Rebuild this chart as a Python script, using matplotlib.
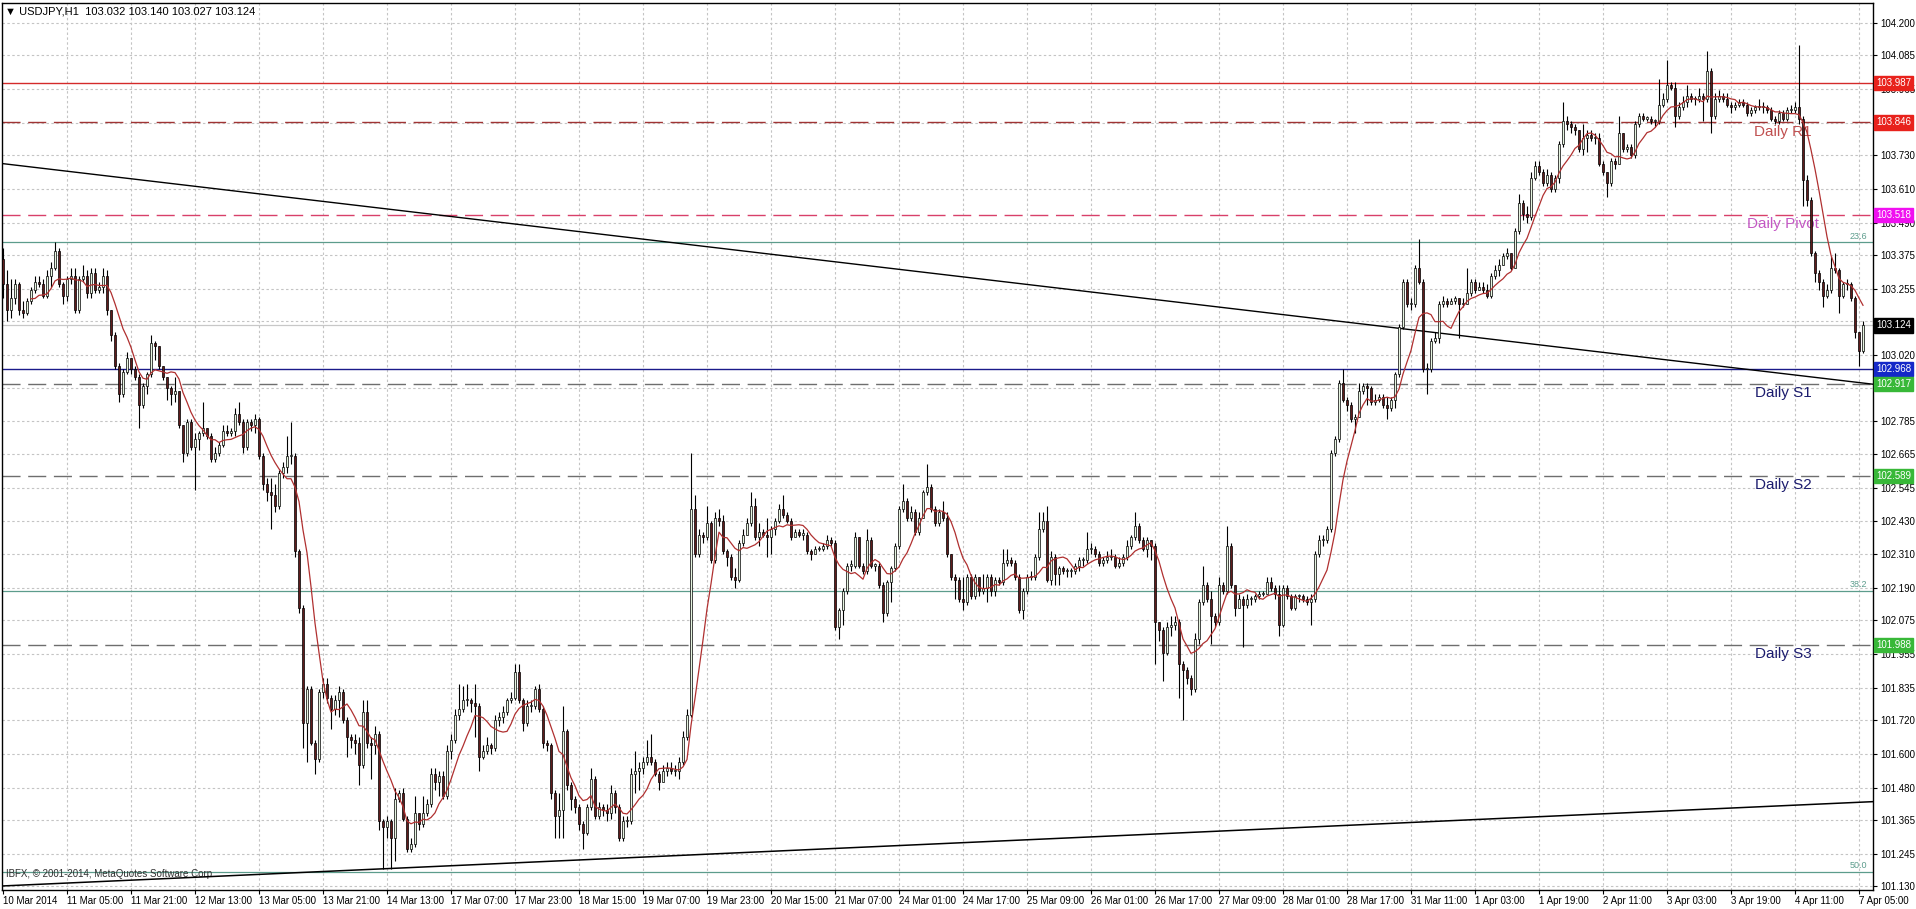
import numpy as np
import matplotlib
matplotlib.use("Agg")
import matplotlib.pyplot as plt
import matplotlib.transforms as mtransforms

plt.rcParams["font.family"] = ["Liberation Sans", "DejaVu Sans"]

# chart header
title_text = "\u25BC USDJPY,H1  103.032 103.140 103.027 103.124"
footer_text = "IBFX, \u00a9 2001-2014, MetaQuotes Software Corp."

# hourly candles, 10 Mar 2014 .. 7 Apr 2014
first_open = 103.36
closes = [
    103.27, 103.18, 103.22, 103.27, 103.18, 103.17, 103.21, 103.25, 103.28, 103.27, 103.23, 103.30, 103.33,
    103.39, 103.27, 103.23, 103.29, 103.30, 103.18, 103.29, 103.30, 103.24, 103.31, 103.25, 103.26, 103.30,
    103.18, 103.09, 102.98, 102.88, 102.96, 103.01, 102.97, 102.94, 102.84, 102.91, 102.95, 103.06, 103.05,
    102.98, 102.94, 102.90, 102.88, 102.89,
    102.77, 102.67, 102.78, 102.69, 102.72, 102.74, 102.76, 102.73, 102.65, 102.67, 102.70, 102.75, 102.74,
    102.75, 102.81, 102.78, 102.69, 102.78, 102.77, 102.79,
    102.66, 102.56, 102.53, 102.52, 102.48, 102.60, 102.62, 102.66, 102.66, 102.32, 102.12, 101.71, 101.83,
    101.64, 101.58, 101.82, 101.85, 101.80, 101.76, 101.79, 101.82, 101.72, 101.66, 101.65, 101.64, 101.56,
    101.75, 101.64, 101.63, 101.67, 101.36,
    101.34, 101.36, 101.30, 101.44, 101.46, 101.37, 101.26, 101.28, 101.39, 101.35, 101.39, 101.42, 101.53,
    101.50, 101.52, 101.45, 101.61, 101.65, 101.74, 101.76, 101.79, 101.79, 101.78, 101.77, 101.59, 101.61,
    101.63, 101.62, 101.72, 101.73, 101.75, 101.79, 101.80, 101.89, 101.79, 101.71,
    101.77, 101.77, 101.83, 101.76, 101.64, 101.63, 101.46, 101.38, 101.40, 101.68, 101.49, 101.44, 101.41,
    101.35, 101.32, 101.41, 101.51, 101.38, 101.41, 101.40, 101.39, 101.46, 101.41, 101.30, 101.36, 101.36,
    101.53, 101.54, 101.55, 101.57, 101.59, 101.57, 101.53, 101.50, 101.54, 101.55, 101.54, 101.54, 101.57,
    101.66, 101.74,
    102.47, 102.31, 102.38, 102.37, 102.42, 102.29, 102.44, 102.43, 102.32, 102.30, 102.23, 102.22, 102.35,
    102.38, 102.42, 102.48, 102.37, 102.39,
    102.38, 102.37, 102.40, 102.43, 102.47, 102.45, 102.43, 102.37, 102.39, 102.38, 102.38, 102.32, 102.31,
    102.33, 102.33, 102.34, 102.36, 102.35, 102.05, 102.11, 102.18, 102.27, 102.27, 102.37, 102.27, 102.25,
    102.36, 102.27, 102.27, 102.20, 102.10, 102.21, 102.26, 102.34, 102.47, 102.50, 102.44, 102.46, 102.39,
    102.44, 102.53,
    102.55, 102.47, 102.42, 102.46, 102.44, 102.31, 102.23, 102.22, 102.15, 102.14, 102.23, 102.16, 102.23,
    102.18, 102.19, 102.23, 102.18, 102.22, 102.21, 102.28, 102.29, 102.28, 102.23, 102.11, 102.18, 102.23,
    102.23, 102.30, 102.40, 102.43, 102.22, 102.30, 102.24, 102.26, 102.25, 102.25, 102.25, 102.27, 102.29,
    102.29, 102.33, 102.33, 102.31, 102.28, 102.29, 102.30, 102.30, 102.27, 102.28, 102.30, 102.34, 102.37,
    102.41, 102.36,
    102.33, 102.36, 102.34, 102.07, 102.04, 101.96, 102.05, 102.06, 102.07, 101.92, 101.90, 101.87, 101.83,
    102.01, 102.14, 102.20, 102.15, 102.09, 102.07, 102.20, 102.18, 102.34, 102.20, 102.12, 102.15, 102.13,
    102.15, 102.15, 102.16, 102.17, 102.17, 102.21, 102.19, 102.17, 102.06, 102.19, 102.16, 102.12, 102.16,
    102.16, 102.15, 102.14, 102.15, 102.31, 102.36, 102.36, 102.40, 102.67, 102.72, 102.92,
    102.86, 102.84, 102.79, 102.80, 102.89, 102.91, 102.90, 102.85, 102.86, 102.87, 102.84, 102.83, 102.86,
    102.95, 103.12, 103.28, 103.20, 103.20, 103.33, 103.28, 102.97, 102.97, 103.07, 103.08, 103.20, 103.21,
    103.20, 103.21, 103.22, 103.20, 103.20, 103.24, 103.28, 103.25, 103.26, 103.25, 103.23, 103.30, 103.32,
    103.34, 103.37, 103.38, 103.33, 103.46, 103.56,
    103.52, 103.51, 103.65, 103.69, 103.67, 103.63, 103.66, 103.61, 103.65, 103.77, 103.85, 103.84, 103.83,
    103.82, 103.75, 103.79, 103.80, 103.79, 103.79, 103.70, 103.67, 103.63, 103.71, 103.70, 103.81, 103.75,
    103.76, 103.73, 103.84, 103.87, 103.86, 103.86, 103.85, 103.85, 103.91, 103.93, 103.98, 103.97, 103.87,
    103.90, 103.92, 103.94, 103.93, 103.93, 103.94, 103.93, 104.03, 103.87, 103.93, 103.94, 103.93, 103.91,
    103.90, 103.91, 103.92, 103.91, 103.88, 103.89, 103.90, 103.90, 103.90, 103.89, 103.86, 103.85, 103.88,
    103.86, 103.89, 103.89, 103.90, 103.86, 103.64, 103.57, 103.38, 103.31, 103.28, 103.23, 103.25, 103.33,
    103.32, 103.23, 103.27, 103.27, 103.22, 103.10, 103.032, 103.124,
]
highs = [
    103.40, 103.32, 103.29, 103.29, 103.28, 103.21, 103.22, 103.26, 103.30, 103.30, 103.29, 103.32, 103.35,
    103.42, 103.40, 103.28, 103.30, 103.33, 103.33, 103.30, 103.34, 103.32, 103.33, 103.33, 103.28, 103.33,
    103.32, 103.18, 103.10, 102.99, 102.97, 103.03, 103.00, 102.98, 102.95, 102.92, 102.96, 103.09, 103.07,
    103.03, 102.98, 102.94, 102.91, 102.94,
    102.86, 102.77, 102.79, 102.79, 102.74, 102.75, 102.85, 102.76, 102.74, 102.69, 102.71, 102.77, 102.77,
    102.76, 102.83, 102.85, 102.79, 102.79, 102.79, 102.81,
    102.80, 102.67, 102.58, 102.58, 102.56, 102.61, 102.64, 102.73, 102.78, 102.67, 102.33, 102.13, 101.84,
    101.84, 101.65, 101.83, 101.87, 101.87, 101.81, 101.81, 101.84, 101.83, 101.73, 101.67, 101.67, 101.66,
    101.79, 101.79, 101.66, 101.70, 101.68,
    101.37, 101.38, 101.37, 101.48, 101.47, 101.48, 101.38, 101.30, 101.45, 101.39, 101.45, 101.44, 101.55,
    101.55, 101.54, 101.54, 101.63, 101.67, 101.76, 101.85, 101.84, 101.85, 101.80, 101.85, 101.78, 101.63,
    101.66, 101.64, 101.74, 101.75, 101.77, 101.80, 101.82, 101.92, 101.92, 101.80,
    101.79, 101.79, 101.84, 101.85, 101.77, 101.65, 101.64, 101.47, 101.46, 101.77, 101.69, 101.50, 101.45,
    101.42, 101.36, 101.42, 101.55, 101.52, 101.43, 101.42, 101.42, 101.49, 101.47, 101.42, 101.38, 101.38,
    101.55, 101.61, 101.57, 101.59, 101.65, 101.67, 101.58, 101.54, 101.56, 101.57, 101.57, 101.56, 101.59,
    101.68, 101.76,
    102.67, 102.52, 102.40, 102.39, 102.48, 102.43, 102.46, 102.47, 102.45, 102.33, 102.31, 102.26, 102.36,
    102.40, 102.44, 102.53, 102.51, 102.42,
    102.40, 102.44, 102.41, 102.44, 102.49, 102.52, 102.46, 102.44, 102.40, 102.40, 102.40, 102.39, 102.33,
    102.34, 102.34, 102.35, 102.38, 102.37, 102.36, 102.12, 102.19, 102.28, 102.29, 102.39, 102.37, 102.28,
    102.40, 102.37, 102.28, 102.28, 102.21, 102.22, 102.27, 102.35, 102.48, 102.56, 102.51, 102.48, 102.47,
    102.46, 102.54,
    102.63, 102.56, 102.48, 102.47, 102.50, 102.46, 102.31, 102.24, 102.23, 102.23, 102.24, 102.24, 102.24,
    102.23, 102.24, 102.24, 102.24, 102.23, 102.23, 102.33, 102.33, 102.30, 102.29, 102.24, 102.19, 102.24,
    102.25, 102.31, 102.46, 102.46, 102.48, 102.32, 102.31, 102.27, 102.27, 102.26, 102.26, 102.28, 102.30,
    102.30, 102.39, 102.35, 102.34, 102.32, 102.30, 102.32, 102.33, 102.31, 102.30, 102.31, 102.36, 102.38,
    102.46, 102.42,
    102.37, 102.37, 102.35, 102.35, 102.07, 102.05, 102.07, 102.09, 102.09, 102.08, 101.93, 101.91, 101.88,
    102.03, 102.15, 102.27, 102.21, 102.18, 102.10, 102.23, 102.21, 102.41, 102.35, 102.20, 102.17, 102.16,
    102.17, 102.16, 102.17, 102.18, 102.18, 102.23, 102.23, 102.20, 102.20, 102.20, 102.20, 102.17, 102.17,
    102.17, 102.17, 102.16, 102.17, 102.32, 102.38, 102.38, 102.41, 102.68, 102.73, 102.93,
    102.97, 102.87, 102.85, 102.81, 102.92, 102.92, 102.92, 102.91, 102.88, 102.88, 102.88, 102.87, 102.87,
    102.96, 103.13, 103.29, 103.29, 103.22, 103.34, 103.43, 103.29, 102.99, 103.08, 103.10, 103.21, 103.23,
    103.22, 103.22, 103.23, 103.22, 103.22, 103.33, 103.29, 103.29, 103.28, 103.28, 103.27, 103.31, 103.34,
    103.36, 103.38, 103.40, 103.38, 103.47, 103.59,
    103.57, 103.55, 103.67, 103.71, 103.71, 103.68, 103.68, 103.67, 103.66, 103.78, 103.92, 103.87, 103.85,
    103.84, 103.81, 103.84, 103.82, 103.82, 103.81, 103.81, 103.71, 103.67, 103.72, 103.72, 103.87, 103.81,
    103.77, 103.77, 103.85, 103.88, 103.88, 103.87, 103.87, 103.86, 104.00, 103.95, 104.07, 103.99, 103.99,
    103.92, 103.94, 103.98, 103.95, 103.94, 103.97, 103.95, 104.10, 104.04, 103.95, 103.96, 103.95, 103.95,
    103.92, 103.92, 103.93, 103.93, 103.92, 103.90, 103.91, 103.93, 103.92, 103.91, 103.90, 103.87, 103.89,
    103.89, 103.90, 103.91, 103.92, 104.12, 103.87, 103.66, 103.58, 103.39, 103.32, 103.29, 103.27, 103.37,
    103.38, 103.33, 103.28, 103.29, 103.28, 103.23, 103.10, 103.140,
]
lows = [
    103.22, 103.14, 103.15, 103.20, 103.16, 103.15, 103.16, 103.20, 103.24, 103.26, 103.22, 103.22, 103.26,
    103.32, 103.26, 103.20, 103.21, 103.27, 103.17, 103.17, 103.28, 103.22, 103.22, 103.24, 103.24, 103.24,
    103.16, 103.07, 102.97, 102.85, 102.87, 102.95, 102.95, 102.93, 102.76, 102.83, 102.88, 102.94, 103.00,
    102.97, 102.93, 102.86, 102.84, 102.85,
    102.76, 102.64, 102.66, 102.68, 102.54, 102.68, 102.73, 102.72, 102.64, 102.64, 102.66, 102.69, 102.73,
    102.73, 102.73, 102.77, 102.67, 102.68, 102.75, 102.74,
    102.65, 102.54, 102.50, 102.40, 102.46, 102.47, 102.58, 102.60, 102.63, 102.30, 102.10, 101.62, 101.57,
    101.63, 101.53, 101.57, 101.80, 101.78, 101.69, 101.74, 101.73, 101.71, 101.59, 101.62, 101.60, 101.49,
    101.55, 101.62, 101.51, 101.60, 101.33,
    101.19, 101.30, 101.19, 101.22, 101.43, 101.36, 101.25, 101.25, 101.27, 101.33, 101.34, 101.38, 101.41,
    101.47, 101.45, 101.44, 101.44, 101.58, 101.64, 101.72, 101.75, 101.77, 101.75, 101.66, 101.54, 101.58,
    101.60, 101.60, 101.61, 101.70, 101.71, 101.74, 101.78, 101.79, 101.78, 101.68,
    101.70, 101.75, 101.76, 101.75, 101.62, 101.61, 101.44, 101.30, 101.30, 101.30, 101.47, 101.40, 101.39,
    101.33, 101.26, 101.31, 101.40, 101.37, 101.37, 101.38, 101.36, 101.37, 101.39, 101.29, 101.29, 101.34,
    101.35, 101.46, 101.47, 101.53, 101.56, 101.56, 101.52, 101.47, 101.50, 101.52, 101.53, 101.52, 101.51,
    101.56, 101.65,
    101.73, 102.30, 102.30, 102.35, 102.36, 102.28, 102.28, 102.41, 102.31, 102.27, 102.22, 102.19, 102.21,
    102.34, 102.39, 102.41, 102.36, 102.34,
    102.37, 102.30, 102.31, 102.38, 102.42, 102.44, 102.42, 102.36, 102.37, 102.37, 102.36, 102.31, 102.29,
    102.31, 102.32, 102.32, 102.33, 102.34, 102.04, 102.01, 102.06, 102.17, 102.25, 102.26, 102.26, 102.24,
    102.24, 102.26, 102.25, 102.19, 102.07, 102.09, 102.14, 102.25, 102.33, 102.46, 102.43, 102.43, 102.38,
    102.38, 102.44,
    102.52, 102.46, 102.41, 102.41, 102.43, 102.30, 102.22, 102.15, 102.14, 102.11, 102.13, 102.15, 102.15,
    102.16, 102.17, 102.14, 102.16, 102.16, 102.20, 102.20, 102.27, 102.27, 102.22, 102.10, 102.08, 102.17,
    102.22, 102.22, 102.29, 102.39, 102.21, 102.20, 102.20, 102.20, 102.24, 102.23, 102.23, 102.24, 102.25,
    102.27, 102.28, 102.31, 102.30, 102.27, 102.27, 102.28, 102.29, 102.26, 102.26, 102.27, 102.29, 102.33,
    102.36, 102.35,
    102.32, 102.30, 102.29, 101.92, 102.00, 101.86, 101.95, 102.02, 102.04, 101.80, 101.72, 101.85, 101.81,
    101.82, 101.99, 102.13, 102.14, 101.99, 102.05, 102.06, 102.17, 102.17, 102.19, 102.09, 102.12, 101.98,
    102.12, 102.13, 102.14, 102.15, 102.16, 102.17, 102.18, 102.15, 102.02, 102.05, 102.15, 102.11, 102.11,
    102.14, 102.14, 102.13, 102.06, 102.14, 102.30, 102.34, 102.35, 102.39, 102.66, 102.71,
    102.85, 102.82, 102.78, 102.74, 102.80, 102.88, 102.84, 102.84, 102.84, 102.85, 102.83, 102.79, 102.82,
    102.83, 102.94, 103.11, 103.19, 103.18, 103.19, 103.27, 102.96, 102.88, 102.96, 103.06, 103.06, 103.19,
    103.19, 103.20, 103.20, 103.08, 103.19, 103.20, 103.23, 103.24, 103.25, 103.24, 103.22, 103.22, 103.29,
    103.30, 103.34, 103.36, 103.32, 103.33, 103.45,
    103.50, 103.49, 103.50, 103.64, 103.66, 103.62, 103.62, 103.60, 103.60, 103.63, 103.76, 103.82, 103.81,
    103.80, 103.74, 103.73, 103.74, 103.78, 103.77, 103.69, 103.66, 103.58, 103.62, 103.68, 103.70, 103.74,
    103.74, 103.72, 103.72, 103.83, 103.85, 103.85, 103.84, 103.83, 103.84, 103.90, 103.92, 103.96, 103.83,
    103.86, 103.89, 103.90, 103.92, 103.91, 103.92, 103.85, 103.92, 103.81, 103.86, 103.92, 103.92, 103.90,
    103.88, 103.89, 103.90, 103.90, 103.87, 103.87, 103.88, 103.89, 103.88, 103.88, 103.85, 103.84, 103.84,
    103.85, 103.85, 103.88, 103.88, 103.84, 103.55, 103.55, 103.37, 103.28, 103.25, 103.19, 103.22, 103.24,
    103.31, 103.17, 103.22, 103.25, 103.21, 103.08, 102.98, 103.027,
]

# time axis labels (one every 16 bars)
time_labels = [
    "10 Mar 2014", "11 Mar 05:00", "11 Mar 21:00", "12 Mar 13:00", "13 Mar 05:00", "13 Mar 21:00",
    "14 Mar 13:00", "17 Mar 07:00", "17 Mar 23:00", "18 Mar 15:00", "19 Mar 07:00", "19 Mar 23:00",
    "20 Mar 15:00", "21 Mar 07:00", "24 Mar 01:00", "24 Mar 17:00", "25 Mar 09:00", "26 Mar 01:00",
    "26 Mar 17:00", "27 Mar 09:00", "28 Mar 01:00", "28 Mar 17:00", "31 Mar 11:00", "1 Apr 03:00",
    "1 Apr 19:00", "2 Apr 11:00", "3 Apr 03:00", "3 Apr 19:00", "4 Apr 11:00", "7 Apr 05:00",
]
bars_per_label = 16

# price scale (labels hidden behind the price boxes are left blank)
price_tick_values = [
    101.130, 101.245, 101.365, 101.480, 101.600, 101.720, 101.835, 101.955, 102.075,
    102.190, 102.310, 102.430, 102.545, 102.665, 102.785, 102.900, 103.020, 103.140,
    103.255, 103.375, 103.490, 103.610, 103.730, 103.845, 103.965, 104.085, 104.200,
]
price_tick_labels = [
    "101.130", "101.245", "101.365", "101.480", "101.600", "101.720", "101.835", "101.955", "102.075",
    "102.190", "102.310", "102.430", "102.545", "102.665", "102.785", "", "103.020", "",
    "103.255", "103.375", "103.490", "103.610", "103.730", "", "103.965", "104.085", "104.200",
]

# horizontal levels
level_prices = [103.987, 103.846, 103.518, 102.968, 102.917, 102.589, 101.988]
level_names = ["", "Daily R1", "Daily Pivot", "", "Daily S1", "Daily S2", "Daily S3"]
level_colors = ["#d42a2a", "#a03434", "#d8406a", "#1a1a8a", "#6e6e6e", "#6e6e6e", "#6e6e6e"]
level_dashed = [False, True, True, False, True, True, True]
level_box_colors = ["#e8221c", "#e8221c", "#f010f0", "#1428c8", "#38b838", "#38b838", "#38b838"]
level_text_colors = ["", "#c05050", "#c458c4", "", "#1c1c6e", "#1c1c6e", "#1c1c6e"]

# fibonacci levels
fib_prices = [103.42, 102.18, 101.18]
fib_names = ["23.6", "38.2", "50.0"]

# trend lines (price at left edge, price at right edge)
trend_down = [103.70, 102.915]
trend_up = [101.13, 101.43]

last_price = 103.124
ma_period = 8

# ---------------------------------------------------------------
closes = np.array(closes)
highs = np.array(highs)
lows = np.array(lows)
opens = np.concatenate([[first_open], closes[:-1]])
highs = np.maximum(highs, np.maximum(opens, closes))
lows = np.minimum(lows, np.minimum(opens, closes))
n = len(closes)
x = np.arange(n)

W, H = 1916, 909
fig = plt.figure(figsize=(W / 100, H / 100), dpi=100)
fig.patch.set_facecolor("white")
left_px, right_px, top_px, bot_px = 2, 1873, 3, 890
ax = fig.add_axes([left_px / W, (H - bot_px) / H, (right_px - left_px) / W, (bot_px - top_px) / H])

x0, x1 = -0.25, 467.5
ax.set_xlim(x0, x1)
ax.set_ylim(101.1157, 104.2711)

# grid
grid_kw = dict(color="#c4c4c4", lw=0.8, linestyle=(0, (2.2, 2.2)), zorder=0)
for p in price_tick_values:
    ax.axhline(p, **grid_kw)
xt = np.arange(len(time_labels)) * bars_per_label
for xv in xt[1:]:
    ax.axvline(xv, **grid_kw)

# fib lines
for p, name in zip(fib_prices, fib_names):
    ax.axhline(p, color="#5c9c8c", lw=0.9, zorder=1)
    ax.text(x1 - 1.5, p + 0.006, name, color="#5c9c8c", fontsize=6.5,
            ha="right", va="bottom", zorder=1)

# bid line
ax.axhline(last_price, color="#c8c8c8", lw=0.9, zorder=1)

# pivot levels
for p, name, col, dash, tcol in zip(level_prices, level_names, level_colors, level_dashed, level_text_colors):
    ls = (0, (13, 5.5)) if dash else "-"
    ax.axhline(p, color=col, lw=1.0, linestyle=ls, zorder=1)
    if name:
        ax.text(445, p - 0.008, name, color=tcol, fontsize=11, ha="center", va="top", zorder=1)

# trend lines
ax.plot([x0, x1], trend_down, color="black", lw=1.0, zorder=2)
ax.plot([x0, x1], trend_up, color="black", lw=1.1, zorder=2)

# candles
ax.vlines(x, lows, highs, color="black", lw=0.8, zorder=3)
bull = closes >= opens
body_lo = np.minimum(opens, closes)
body_h = np.maximum(np.abs(closes - opens), 0.004)
ax.bar(x[bull], body_h[bull], bottom=body_lo[bull], width=0.72, color="#e6f4e0",
       edgecolor="black", linewidth=0.5, zorder=4)
ax.bar(x[~bull], body_h[~bull], bottom=body_lo[~bull], width=0.72, color="#5e1b1b",
       edgecolor="black", linewidth=0.5, zorder=4)

# moving average
ma = np.convolve(closes, np.ones(ma_period) / ma_period, mode="valid")
ax.plot(x[ma_period - 1:], ma, color="#b03030", lw=0.9, zorder=5)

# axes styling
for s in ax.spines.values():
    s.set_color("black")
    s.set_linewidth(1.0)
ax.yaxis.tick_right()
ax.set_yticks(price_tick_values)
ax.set_yticklabels(price_tick_labels)
ax.tick_params(axis="y", direction="out", length=3, width=0.8, pad=2, labelsize=7, colors="black")
ax.set_xticks(xt)
ax.set_xticklabels(time_labels, ha="left")
ax.tick_params(axis="x", direction="out", length=3, width=0.8, pad=1, labelsize=7, colors="black")

# right side price boxes
trans = mtransforms.blended_transform_factory(ax.transAxes, ax.transData)
box_x = 1.0 + 3 / (right_px - left_px)
for p, bc in zip(level_prices, level_box_colors):
    ax.text(box_x, p, f"{p:.3f}", transform=trans, color="white", fontsize=7, ha="left", va="center",
            clip_on=False, zorder=10,
            bbox=dict(boxstyle="square,pad=0.22", fc=bc, ec=bc))
ax.text(box_x, last_price, f"{last_price:.3f}", transform=trans, color="white", fontsize=7,
        ha="left", va="center", clip_on=False, zorder=10,
        bbox=dict(boxstyle="square,pad=0.22", fc="black", ec="black"))

# header and footer
fig.text(5 / W, 1 - 12 / H, title_text, fontsize=8, ha="left", va="center", color="black")
ax.text(0.002, 0.012, footer_text, transform=ax.transAxes, fontsize=7, ha="left", va="bottom",
        color="#303030", zorder=1)

fig.savefig("out.png", dpi=100, facecolor="white")
